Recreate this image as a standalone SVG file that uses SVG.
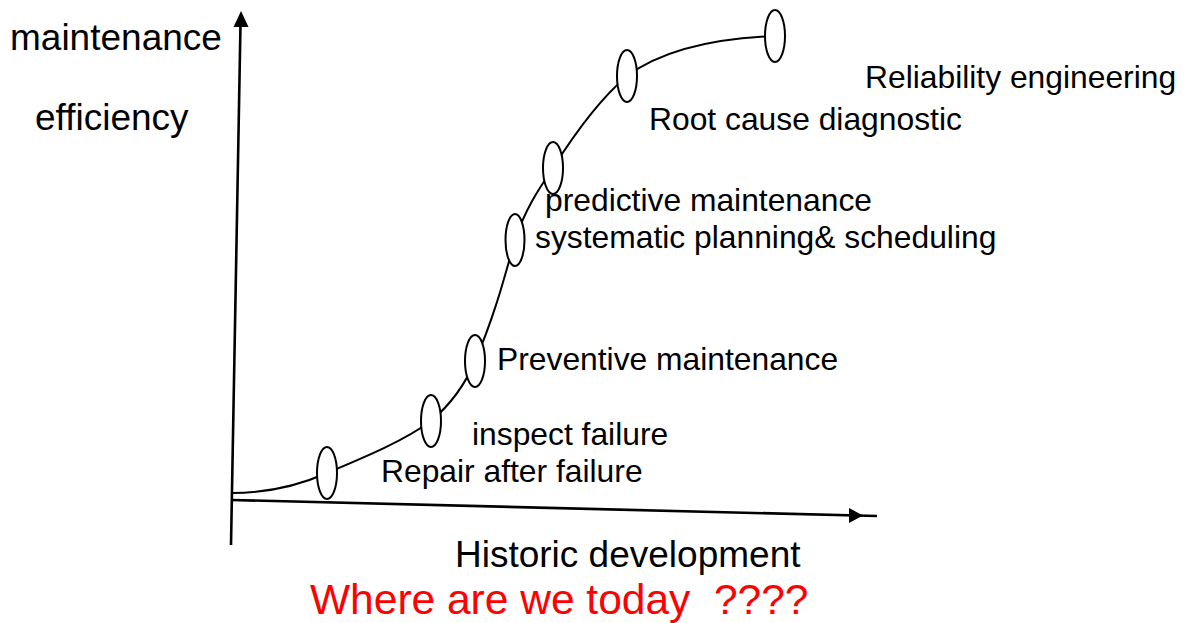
<svg xmlns="http://www.w3.org/2000/svg" width="1188" height="623" viewBox="0 0 1188 623">
<style>
  .lbl { font-family: "Liberation Sans", Arial, sans-serif; font-size: 31.8px; fill: #000; }
  .axl { font-family: "Liberation Sans", Arial, sans-serif; font-size: 37px; fill: #000; }
  .red { font-family: "Liberation Sans", Arial, sans-serif; font-size: 42.5px; fill: #ff0000; }
  .axis { stroke: #000; stroke-width: 2.6; fill: none; }
  .curve { stroke: #000; stroke-width: 2; fill: none; }
  .stage { stroke: #000; stroke-width: 2; fill: #fff; }
  .head { fill: #000; stroke: none; }
</style>
<rect width="1188" height="623" fill="#fff"/>
<g id="connectors">
  <line class="axis" x1="231" y1="545" x2="240.5" y2="24"/>
  <polygon class="head" points="241,11 248.5,27 233.5,27"/>
  <line class="axis" x1="231" y1="500" x2="877" y2="516"/>
  <polygon class="head" points="863,515.5 849,508 849,523"/>
  <path class="curve" d="M232,493 C270,493 300,485 327,473 C370,455 405,440 431,421 C450,405 465,385 475,361 C495,315 505,275 515,240 C525,210 538,190 553,168 C575,133 600,99 627,76 C665,48 720,38 775,36"/>
</g>
<g id="axis-y-label">
  <text class="axl" x="10" y="50">maintenance</text>
  <text class="axl" x="35" y="130">efficiency</text>
</g>
<g id="axis-x-label">
  <text class="axl" x="455" y="567">Historic development</text>
</g>
<g id="stage-repair">
  <ellipse class="stage" cx="327" cy="473" rx="10" ry="26"/>
  <text class="lbl" x="381" y="482">Repair after failure</text>
</g>
<g id="stage-inspect">
  <ellipse class="stage" cx="431" cy="421" rx="10" ry="26"/>
  <text class="lbl" x="472" y="445">inspect failure</text>
</g>
<g id="stage-preventive">
  <ellipse class="stage" cx="475" cy="361" rx="10" ry="26"/>
  <text class="lbl" x="497" y="370">Preventive maintenance</text>
</g>
<g id="stage-systematic">
  <ellipse class="stage" cx="515" cy="240" rx="9.5" ry="26"/>
  <text class="lbl" x="535" y="248">systematic planning&amp; scheduling</text>
</g>
<g id="stage-predictive">
  <ellipse class="stage" cx="553" cy="168" rx="10" ry="26"/>
  <text class="lbl" x="545" y="211">predictive maintenance</text>
</g>
<g id="stage-rootcause">
  <ellipse class="stage" cx="627" cy="76" rx="10" ry="26"/>
  <text class="lbl" x="649" y="130">Root cause diagnostic</text>
</g>
<g id="stage-reliability">
  <ellipse class="stage" cx="775" cy="36" rx="10" ry="26"/>
  <text class="lbl" x="865" y="88">Reliability engineering</text>
</g>
<g id="question">
  <text class="red" x="310" y="614" xml:space="preserve">Where are we today  ????</text>
</g>
</svg>
